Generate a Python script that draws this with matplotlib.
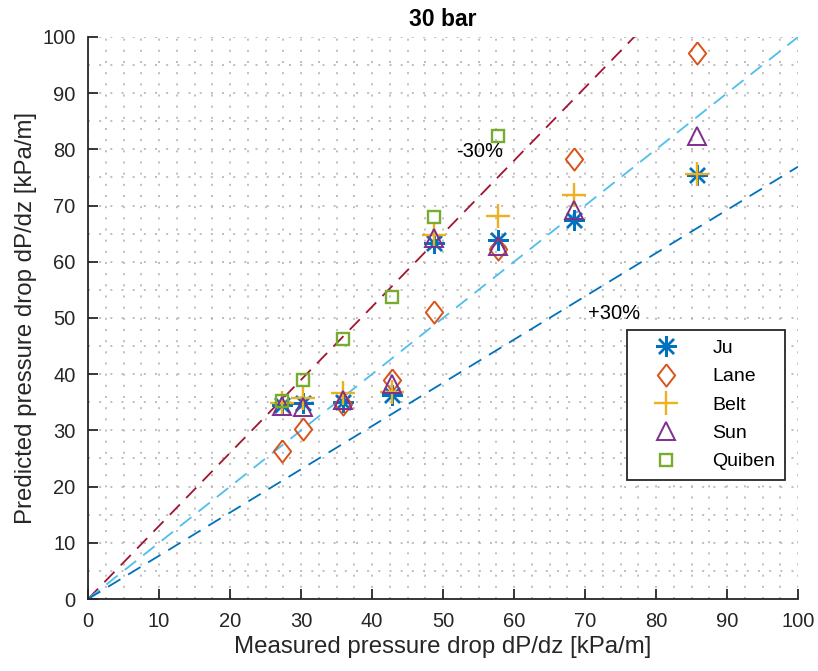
import numpy as np
import matplotlib.pyplot as plt

plt.rcParams['font.family'] = ['Liberation Sans', 'DejaVu Sans']

# measured pressure drop [kPa/m]
measured = [27.3, 30.3, 35.9, 42.8, 48.7, 57.7, 68.5, 85.7]

ju = [34.5, 34.8, 35.1, 36.3, 63.4, 63.8, 67.5, 75.4]
lane = [26.3, 30.2, 34.7, 39.0, 51.0, 62.3, 78.3, 97.2]
belt = [34.8, 35.8, 36.6, 36.9, 64.8, 68.1, 71.9, 75.6]
sun = [34.3, 34.2, 35.4, 38.3, 64.2, 62.8, 69.2, 82.3]
quiben_x = [27.3, 30.3, 35.9, 42.8, 48.7, 57.7]
quiben = [35.2, 39.0, 46.2, 53.8, 67.9, 82.4]

# matlab style diamond (a bit taller than wide)
diamond = [(0, 1), (0.78, 0), (0, -1), (-0.78, 0), (0, 1)]

fig = plt.figure(figsize=(8.18, 6.71), dpi=100)
ax = fig.add_axes([0.1076, 0.1073, 0.868, 0.8376])

# reference lines
xl = np.array([0, 100])
ax.plot(xl, 1.3 * xl, color='#A2142F', lw=1.3, dashes=(8, 5), zorder=2)
ax.plot(xl, xl, color='#4DBEEE', lw=1.3, dashes=(8, 5), zorder=2)
ax.plot(xl, xl / 1.3, color='#0072BD', lw=1.3, dashes=(8, 5), zorder=2)

ax.plot(measured, ju, linestyle='none', marker=(8, 2, 0), ms=15, mew=1.7,
        color='#0072BD', label='Ju', zorder=3)
ax.plot(measured, lane, linestyle='none', marker=diamond, ms=16, mew=1.4,
        mfc='none', color='#D95319', label='Lane', zorder=3)
ax.plot(measured, belt, linestyle='none', marker='+', ms=17, mew=1.7,
        color='#EDB120', label='Belt', zorder=3)
ax.plot(measured, sun, linestyle='none', marker='^', ms=13, mew=1.4,
        mfc='none', color='#7E2F8E', label='Sun', zorder=3)
ax.plot(quiben_x, quiben, linestyle='none', marker='s', ms=9, mew=1.7,
        mfc='none', color='#77AC30', label='Quiben', zorder=3)

ax.text(51.9, 79.6, '-30%', fontsize=14.5, va='center')
ax.text(70.4, 50.8, '+30%', fontsize=14.5, va='center')

ax.set_xlim(0, 100)
ax.set_ylim(0, 100)
ax.set_xticks(np.arange(0, 101, 10))
ax.set_yticks(np.arange(0, 101, 10))
ax.set_xticks(np.arange(0, 101, 2.5), minor=True)
ax.set_yticks(np.arange(0, 101, 5), minor=True)
ax.tick_params(which='major', direction='in', length=7, width=1.3, labelsize=14.5,
               colors='#262626', pad=9)
ax.tick_params(which='minor', length=0)
ax.grid(which='both', linestyle=(0, (1.2, 5.5)), color='#b4b4b4', lw=1.2)
ax.set_axisbelow(True)
for s in ['top', 'right']:
    ax.spines[s].set_visible(False)
for s in ['left', 'bottom']:
    ax.spines[s].set_linewidth(1.3)
    ax.spines[s].set_color('#262626')

ax.set_xlabel('Measured pressure drop dP/dz [kPa/m]', fontsize=17.3, color='#262626')
ax.set_ylabel('Predicted pressure drop dP/dz [kPa/m]', fontsize=17.3, color='#262626')
ax.set_title('30 bar', fontsize=16.5, fontweight='bold', pad=8)

leg = ax.legend(loc='upper left', bbox_to_anchor=(0.759, 0.479), fontsize=14,
                frameon=True, fancybox=False, edgecolor='#262626', framealpha=1,
                borderaxespad=0, handletextpad=0.9, borderpad=0.5,
                labelspacing=0.55, handlelength=3.0)
leg.get_frame().set_linewidth(1.3)

plt.savefig('out.png', dpi=100)
